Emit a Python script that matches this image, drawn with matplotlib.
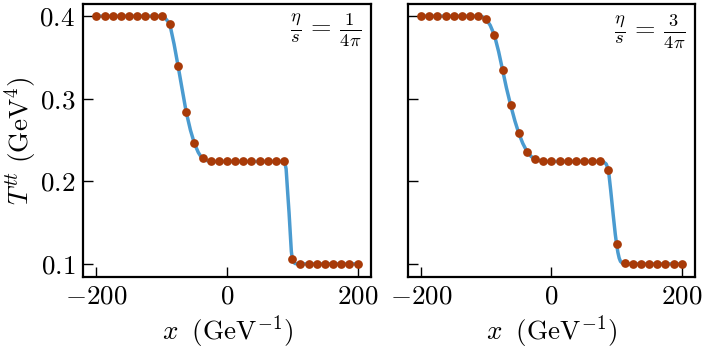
import matplotlib
matplotlib.use("Agg")
import matplotlib.pyplot as plt

plt.rcParams['mathtext.fontset'] = 'cm'
plt.rcParams['font.family'] = 'serif'
plt.rcParams['font.serif'] = ['cmr10', 'DejaVu Serif']
plt.rcParams['axes.formatter.use_mathtext'] = True

# ---- data: left panel (eta/s = 1/4pi) ----
dots_x_left = [-200, -187.5, -175, -162.5, -150, -137.5, -125, -112.5, -100,
               -87.5, -75, -62.5, -50, -37.5,
               -25, -12.5, 0, 12.5, 25, 37.5, 50, 62.5, 75, 87.5,
               100, 112.5, 125, 137.5, 150, 162.5, 175, 187.5, 200]
dots_y_left = [0.4, 0.4, 0.4, 0.4, 0.4, 0.4, 0.4, 0.4, 0.4,
               0.390, 0.340, 0.284, 0.246, 0.228,
               0.224, 0.224, 0.224, 0.224, 0.224, 0.224, 0.224, 0.224, 0.224, 0.224,
               0.106, 0.1, 0.1, 0.1, 0.1, 0.1, 0.1, 0.1, 0.1]
line_x_left = [-200, -100, -96, -93, -90, -87.5, -81, -75, -69, -62.5, -56, -50,
               -44, -40, -37.5, -33, -28, -25, 86, 88.5, 90.5, 93, 95, 97, 98.5,
               100, 102, 104, 107, 200]
line_y_left = [0.4, 0.4, 0.399, 0.396, 0.393, 0.390, 0.366, 0.340, 0.313, 0.284,
               0.262, 0.246, 0.235, 0.230, 0.228, 0.2255, 0.2245, 0.224, 0.224,
               0.2225, 0.215, 0.185, 0.162, 0.135, 0.115, 0.106, 0.102, 0.1005,
               0.1, 0.1]

# ---- data: right panel (eta/s = 3/4pi) ----
dots_x_right = [-200, -187.5, -175, -162.5, -150, -137.5, -125, -112.5,
                -100, -87.5, -75, -62.5, -50, -37.5, -25,
                -12.5, 0, 12.5, 25, 37.5, 50, 62.5, 75,
                87.5, 100,
                112.5, 125, 137.5, 150, 162.5, 175, 187.5, 200]
dots_y_right = [0.4, 0.4, 0.4, 0.4, 0.4, 0.4, 0.4, 0.4,
                0.396, 0.377, 0.335, 0.292, 0.258, 0.236, 0.227,
                0.224, 0.224, 0.224, 0.224, 0.224, 0.224, 0.224, 0.224,
                0.214, 0.124,
                0.1012, 0.1, 0.1, 0.1, 0.1, 0.1, 0.1, 0.1]
line_x_right = [-200, -110, -105, -100, -94, -87.5, -81, -75, -69, -62.5, -56, -50,
                -44, -37.5, -31, -25, -18, -12.5, 76, 80, 84, 87.5, 91, 95, 98,
                100, 102, 104, 106, 109, 112.5, 200]
line_y_right = [0.4, 0.4, 0.399, 0.396, 0.389, 0.377, 0.357, 0.335, 0.313, 0.292,
                0.273, 0.258, 0.246, 0.236, 0.230, 0.227, 0.225, 0.224, 0.224,
                0.2235, 0.221, 0.214, 0.189, 0.158, 0.136, 0.124, 0.114, 0.107,
                0.103, 0.1007, 0.1, 0.1]

labels = [r'$\frac{\eta}{s}\,=\,\frac{1}{4\pi}$', r'$\frac{\eta}{s}\,=\,\frac{3}{4\pi}$']
xticks = [-200, 0, 200]
yticks = [0.1, 0.2, 0.3, 0.4]

line_color = '#4a9bd0'
dot_color = '#a83a08'

fig = plt.figure(figsize=(7.06, 3.53), dpi=100)
ax1 = fig.add_axes([0.118, 0.216, 0.408, 0.772])
ax2 = fig.add_axes([0.578, 0.216, 0.407, 0.772], sharey=ax1)

panels = [(ax1, line_x_left, line_y_left, dots_x_left, dots_y_left, labels[0]),
          (ax2, line_x_right, line_y_right, dots_x_right, dots_y_right, labels[1])]

for ax, lx, ly, dx, dy, lab in panels:
    ax.plot(lx, ly, color=line_color, lw=2.5, zorder=2, solid_capstyle='round')
    ax.plot(dx, dy, 'o', color=dot_color, ms=6.3, mec='none', zorder=3)
    ax.set_xlim(-220, 221)
    ax.set_ylim(0.0844, 0.4144)
    ax.set_xticks(xticks)
    ax.set_xticklabels([rf'${v}$' for v in xticks])
    ax.set_yticks(yticks)
    ax.tick_params(direction='in', length=7, width=1.0, labelsize=19.5, pad=6)
    for sp in ax.spines.values():
        sp.set_linewidth(1.6)
    ax.set_xlabel(r'$x\;\ (\mathrm{GeV}^{-1})$', fontsize=19.5, labelpad=3)
    ax.text(0.965, 0.97, lab, transform=ax.transAxes, ha='right', va='top',
            fontsize=19)

ax1.set_yticklabels([rf'${v}$' for v in yticks])
ax1.set_ylabel(r'$T^{tt}\ (\mathrm{GeV}^4)$', fontsize=19.5, labelpad=0.5)
plt.setp(ax2.get_yticklabels(), visible=False)

fig.savefig('out.png', dpi=100)
